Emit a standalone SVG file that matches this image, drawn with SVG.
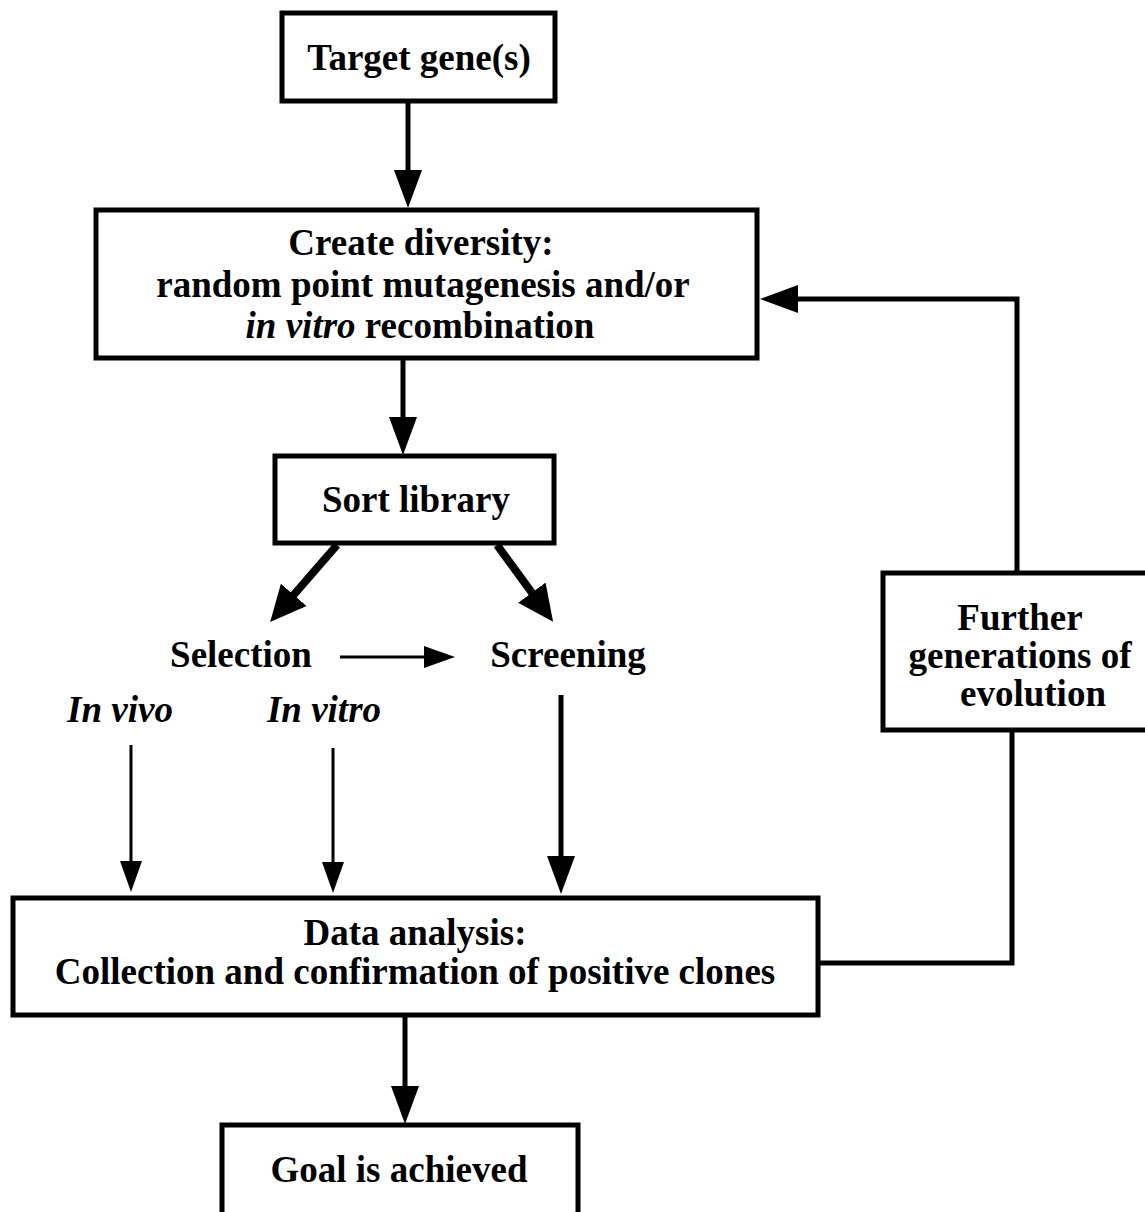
<svg xmlns="http://www.w3.org/2000/svg" width="1145" height="1212" viewBox="0 0 1145 1212">
<style>
  .box { fill: #fff; stroke: #000; stroke-width: 5; }
  .t { font-family: "Liberation Serif", "Times New Roman", serif; font-weight: bold; font-size: 37px; fill: #000; text-anchor: middle; }
  .it { font-style: italic; }
  .thick { stroke: #000; stroke-width: 5; fill: none; }
  .diag { stroke: #000; stroke-width: 8; fill: none; }
  .thin { stroke: #000; stroke-width: 3; fill: none; }
</style>
<defs>
  <marker id="ahBig" markerUnits="userSpaceOnUse" markerWidth="38" markerHeight="28" refX="28" refY="14" orient="auto">
    <path d="M0,0 L38,14 L0,28 z" fill="#000"/>
  </marker>
  <marker id="ahDiag" markerUnits="userSpaceOnUse" markerWidth="36" markerHeight="34" refX="24" refY="17" orient="auto">
    <path d="M0,0 L36,17 L0,34 z" fill="#000"/>
  </marker>
  <marker id="ahThin" markerUnits="userSpaceOnUse" markerWidth="31" markerHeight="22" refX="23" refY="11" orient="auto">
    <path d="M0,0 L31,11 L0,22 z" fill="#000"/>
  </marker>
</defs>
<rect width="1145" height="1212" fill="#fff"/>

<g id="connectors">
  <line class="thick" x1="408" y1="103" x2="408" y2="198" marker-end="url(#ahBig)"/>
  <line class="thick" x1="403" y1="360" x2="403" y2="445" marker-end="url(#ahBig)"/>
  <line class="diag" x1="337" y1="545" x2="278" y2="613" marker-end="url(#ahDiag)"/>
  <line class="diag" x1="497" y1="545" x2="546" y2="612" marker-end="url(#ahDiag)"/>
  <line class="thin" x1="340" y1="657" x2="447" y2="657" marker-end="url(#ahThin)"/>
  <line class="thin" x1="131" y1="745" x2="131" y2="884" marker-end="url(#ahThin)"/>
  <line class="thin" x1="333" y1="748" x2="333" y2="885" marker-end="url(#ahThin)"/>
  <line class="thick" x1="561" y1="695" x2="561" y2="884" marker-end="url(#ahBig)"/>
  <line class="thick" x1="405" y1="1015" x2="405" y2="1114" marker-end="url(#ahBig)"/>
  <polyline class="thick" points="818,963 1012,963 1012,730"/>
  <polyline class="thick" points="1017,573 1017,299 770,299" marker-end="url(#ahBig)"/>
</g>

<g id="node-target">
  <rect class="box" x="282" y="13" width="273" height="88"/>
  <text class="t" x="419" y="70">Target gene(s)</text>
</g>

<g id="node-create">
  <rect class="box" x="96" y="210" width="661" height="148"/>
  <text class="t" x="421" y="255">Create diversity:</text>
  <text class="t" x="423" y="297">random point mutagenesis and/or</text>
  <text class="t" x="420" y="338"><tspan class="it">in vitro</tspan> recombination</text>
</g>

<g id="node-sort">
  <rect class="box" x="275" y="456" width="279" height="87"/>
  <text class="t" x="416" y="512">Sort library</text>
</g>

<g id="node-selection">
  <text class="t" x="241" y="667">Selection</text>
</g>

<g id="node-screening">
  <text class="t" x="568" y="667">Screening</text>
</g>

<g id="node-invivo">
  <text class="t it" x="120" y="722">In vivo</text>
</g>

<g id="node-invitro">
  <text class="t it" x="324" y="722">In vitro</text>
</g>

<g id="node-data">
  <rect class="box" x="13" y="898" width="805" height="117"/>
  <text class="t" x="415" y="945">Data analysis:</text>
  <text class="t" x="415" y="984">Collection and confirmation of positive clones</text>
</g>

<g id="node-further">
  <rect class="box" x="883" y="573" width="275" height="157"/>
  <text class="t" x="1020" y="630">Further</text>
  <text class="t" x="1020" y="668">generations of</text>
  <text class="t" x="1033" y="706">evolution</text>
</g>

<g id="node-goal">
  <rect class="box" x="222" y="1125" width="356" height="100"/>
  <text class="t" x="399" y="1182">Goal is achieved</text>
</g>
</svg>
